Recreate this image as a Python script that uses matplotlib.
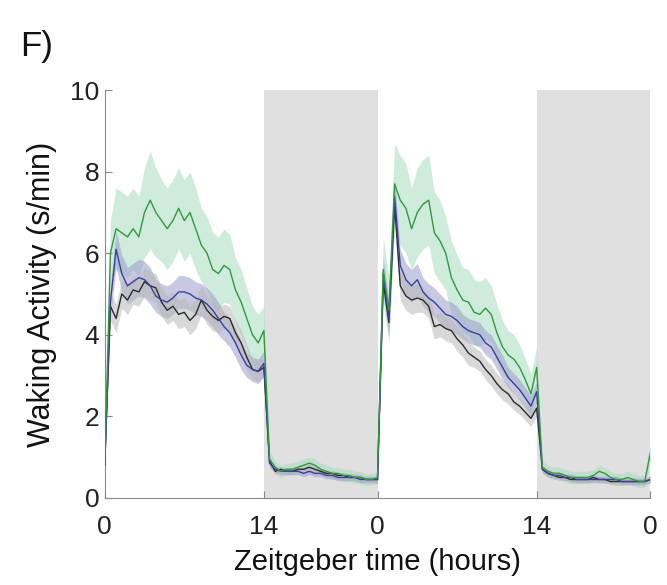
import numpy as np
import matplotlib
matplotlib.use("Agg")
import matplotlib.pyplot as plt

plt.rcParams['font.family'] = ['Liberation Sans', 'DejaVu Sans']

# time in hours, two days at 30 min bins
hours = np.arange(0, 48.01, 0.5)

green = [0.8, 6.0, 6.6, 6.5, 6.4, 6.6, 6.4, 7.0, 7.3, 7.0, 6.8, 6.6, 6.8, 7.1, 6.8, 7.0,
         6.6, 6.2, 6.0, 5.6, 5.5, 5.7, 5.6, 5.1, 4.8, 4.4, 4.0, 3.8, 4.1,
         0.95, 0.75, 0.65, 0.7, 0.7, 0.75, 0.8, 0.85, 0.8, 0.7, 0.65, 0.6, 0.6, 0.55, 0.55,
         0.5, 0.5, 0.45, 0.45, 0.5,
         5.6, 4.6, 7.7, 7.3, 7.1, 6.6, 7.0, 7.2, 7.3, 6.5, 6.3, 6.0, 5.4, 5.1, 4.85, 4.8,
         4.55, 4.5, 4.65, 4.5, 4.05, 3.7, 3.5, 3.4, 3.2, 2.9, 2.55, 3.2,
         0.75, 0.65, 0.6, 0.6, 0.55, 0.5, 0.5, 0.5, 0.5, 0.55, 0.65, 0.6, 0.5, 0.45, 0.45,
         0.5, 0.45, 0.4, 0.4, 1.1]

blue = [0.8, 4.8, 6.1, 5.5, 5.2, 5.3, 5.4, 5.35, 5.2, 4.95, 4.85, 4.8, 4.9, 5.05, 5.05, 5.0,
        4.9, 4.85, 4.75, 4.6, 4.4, 4.2, 4.05, 3.8, 3.5, 3.25, 3.15, 3.1, 3.3,
        0.85, 0.7, 0.65, 0.65, 0.65, 0.65, 0.6, 0.65, 0.6, 0.6, 0.55, 0.55, 0.5, 0.5, 0.5,
        0.5, 0.45, 0.45, 0.45, 0.45,
        5.5, 4.4, 7.4, 5.7, 5.35, 5.2, 5.35, 5.05, 4.9, 4.8, 4.65, 4.5, 4.45, 4.35, 4.2, 4.1,
        4.05, 4.0, 3.8, 3.7, 3.45, 3.2, 2.95, 2.8, 2.65, 2.45, 2.25, 2.6,
        0.7, 0.6, 0.55, 0.55, 0.5, 0.5, 0.45, 0.45, 0.45, 0.45, 0.45, 0.45, 0.45, 0.45, 0.4,
        0.4, 0.4, 0.4, 0.4, 0.45]

black = [0.8, 4.7, 4.4, 5.0, 4.85, 5.1, 5.05, 5.3, 5.2, 5.15, 4.8, 4.6, 4.7, 4.5, 4.55, 4.35,
         4.5, 4.85, 4.6, 4.45, 4.35, 4.45, 4.4, 4.05, 3.8, 3.45, 3.15, 3.1, 3.2,
         0.9, 0.65, 0.7, 0.65, 0.65, 0.7, 0.7, 0.75, 0.7, 0.65, 0.6, 0.6, 0.55, 0.55, 0.5,
         0.5, 0.5, 0.45, 0.45, 0.45,
         5.3, 4.3, 7.2, 5.2, 4.95, 4.85, 4.9, 4.85, 4.7, 4.2, 4.25, 4.15, 4.1, 3.9, 3.75, 3.55,
         3.45, 3.35, 3.15, 3.0, 2.8, 2.65, 2.55, 2.35, 2.25, 2.1, 1.95, 2.2,
         0.7, 0.6, 0.55, 0.5, 0.5, 0.45, 0.45, 0.45, 0.45, 0.5, 0.45, 0.45, 0.4, 0.4, 0.4,
         0.4, 0.4, 0.4, 0.4, 0.45]

green_sem = [0.2, 0.8, 1.0, 1.0, 1.0, 1.0, 1.0, 1.1, 1.2, 1.1, 1.0, 1.0, 1.0, 1.0, 1.0, 1.0,
             1.0, 0.9, 0.9, 0.9, 0.9, 0.9, 0.85, 0.8, 0.8, 0.75, 0.7, 0.7, 0.6,
             0.2, 0.15, 0.15, 0.15, 0.15, 0.15, 0.15, 0.15, 0.15, 0.15, 0.15, 0.15, 0.15, 0.15, 0.15,
             0.15, 0.15, 0.15, 0.15, 0.15,
             0.8, 0.8, 1.0, 1.1, 1.1, 1.0, 1.1, 1.1, 1.1, 1.0, 1.0, 0.9, 0.9, 0.85, 0.8, 0.8,
             0.8, 0.8, 0.75, 0.7, 0.7, 0.65, 0.6, 0.6, 0.55, 0.5, 0.5, 0.5,
             0.15, 0.15, 0.15, 0.15, 0.15, 0.15, 0.15, 0.15, 0.15, 0.15, 0.15, 0.15, 0.15, 0.15, 0.15,
             0.15, 0.15, 0.15, 0.15, 0.2]

blue_sem = [0.1, 0.4, 0.45, 0.45, 0.45, 0.45, 0.45, 0.45, 0.45, 0.4, 0.4, 0.4, 0.4, 0.4, 0.4, 0.4,
            0.4, 0.4, 0.4, 0.4, 0.4, 0.35, 0.35, 0.35, 0.35, 0.3, 0.3, 0.3, 0.3,
            0.1, 0.08, 0.08, 0.08, 0.08, 0.08, 0.08, 0.08, 0.08, 0.08, 0.08, 0.08, 0.08, 0.08, 0.08,
            0.08, 0.08, 0.08, 0.08, 0.08,
            0.4, 0.4, 0.45, 0.4, 0.4, 0.4, 0.4, 0.35, 0.35, 0.35, 0.35, 0.35, 0.35, 0.35, 0.3, 0.3,
            0.3, 0.3, 0.3, 0.3, 0.3, 0.3, 0.25, 0.25, 0.25, 0.25, 0.25, 0.25,
            0.08, 0.08, 0.08, 0.08, 0.08, 0.08, 0.08, 0.08, 0.08, 0.08, 0.08, 0.08, 0.08, 0.08, 0.08,
            0.08, 0.08, 0.08, 0.08, 0.08]

black_sem = [0.1, 0.35, 0.35, 0.35, 0.35, 0.35, 0.35, 0.35, 0.35, 0.35, 0.35, 0.35, 0.35, 0.35, 0.35, 0.35,
             0.35, 0.35, 0.35, 0.35, 0.3, 0.3, 0.3, 0.3, 0.3, 0.3, 0.25, 0.25, 0.25,
             0.1, 0.08, 0.08, 0.08, 0.08, 0.08, 0.08, 0.08, 0.08, 0.08, 0.08, 0.08, 0.08, 0.08, 0.08,
             0.08, 0.08, 0.08, 0.08, 0.08,
             0.35, 0.35, 0.4, 0.35, 0.35, 0.35, 0.35, 0.3, 0.3, 0.3, 0.3, 0.3, 0.3, 0.3, 0.3, 0.3,
             0.25, 0.25, 0.25, 0.25, 0.25, 0.25, 0.25, 0.2, 0.2, 0.2, 0.2, 0.2,
             0.08, 0.08, 0.08, 0.08, 0.08, 0.08, 0.08, 0.08, 0.08, 0.08, 0.08, 0.08, 0.08, 0.08, 0.08,
             0.08, 0.08, 0.08, 0.08, 0.08]

dark_periods = [(14, 24), (38, 48)]
tick_pos = [0, 14, 24, 38, 48]
tick_labels = ['0', '14', '0', '14', '0']

series = [
    (green, green_sem, '#2f9a3c', '#a6dcc0'),
    (blue, blue_sem, '#3a3f9e', '#9c9ccb'),
    (black, black_sem, '#2b2b2b', '#b8b8b8'),
]

fig = plt.figure(figsize=(6.67, 5.85), dpi=100)
ax = fig.add_axes([0.157, 0.149, 0.818, 0.697])

for start, end in dark_periods:
    ax.axvspan(start, end, ymin=0, ymax=1, color='#e0e0e0', lw=0, zorder=0)

for vals, sem, lc, fc in series:
    v = np.array(vals)
    s = np.array(sem)
    ax.fill_between(hours, v - s, v + s, color=fc, alpha=0.55, lw=0, zorder=1)

for vals, sem, lc, fc in [series[2], series[1], series[0]]:
    ax.plot(hours, vals, color=lc, lw=1.0, zorder=3)

ax.set_xlim(0, 48)
ax.set_ylim(0, 10)
ax.set_xticks(tick_pos)
ax.set_xticklabels(tick_labels)
ax.set_yticks([0, 2, 4, 6, 8, 10])

for side in ['top', 'right']:
    ax.spines[side].set_visible(False)
for side in ['left', 'bottom']:
    ax.spines[side].set_color('#8a8a8a')
    ax.spines[side].set_linewidth(0.8)

ax.tick_params(direction='in', length=5, width=0.8, color='#8a8a8a',
               labelsize=19, labelcolor='#222222')
ax.tick_params(axis='x', pad=12)
ax.tick_params(axis='y', pad=4)

ax.set_xlabel('Zeitgeber time (hours)', fontsize=21, color='#111111', labelpad=7)
ax.set_ylabel('Waking Activity (s/min)', fontsize=22, color='#111111', labelpad=9)

fig.text(0.03, 0.905, 'F)', fontsize=25, color='#111111', va='baseline')

fig.savefig('out.png', dpi=100)
